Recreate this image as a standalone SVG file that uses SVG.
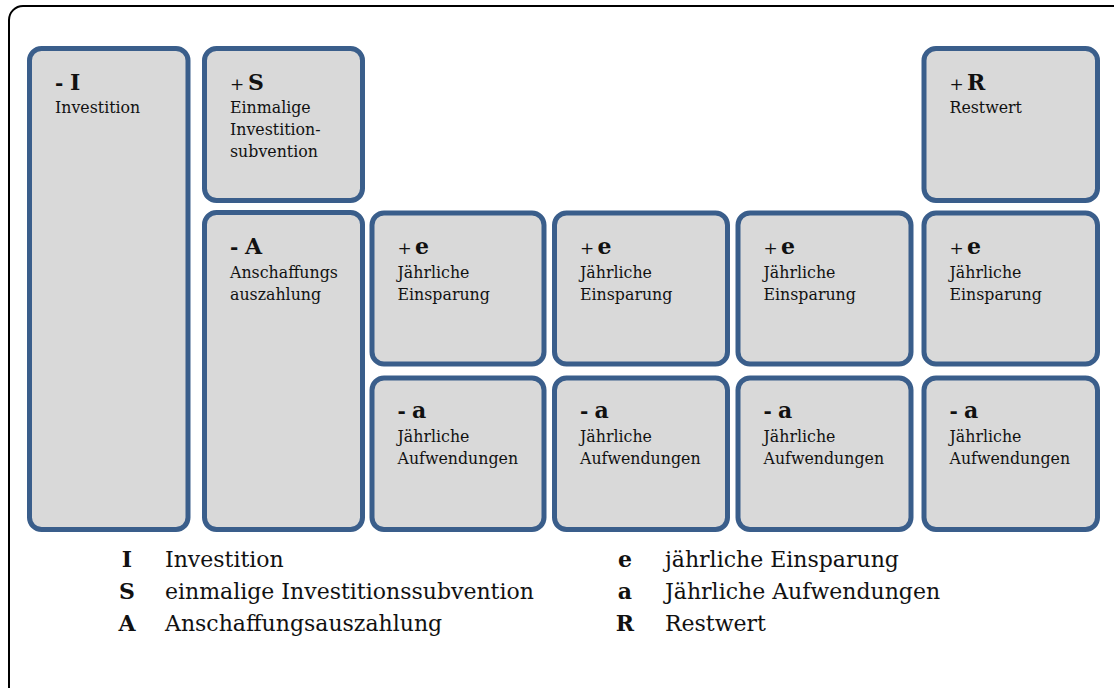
<svg xmlns="http://www.w3.org/2000/svg" width="1114" height="688" viewBox="0 0 1114 688">
<style>
.frame{fill:none;stroke:#000;stroke-width:2}
.box{fill:#d9d9d9;stroke:#3a5e8b;stroke-width:5}
text{font-family:"DejaVu Serif","Liberation Serif",serif;fill:#111}
.sym{font-size:17px}
.dash{font-size:20px;font-weight:bold}
.let{font-size:22px;font-weight:bold}
.desc{font-size:15.8px}
.lg{font-size:22px}
.lgb{font-size:22px;font-weight:bold;text-anchor:middle}
</style>
<rect class="frame" x="9" y="6" width="1125" height="695" rx="14"/>
<g id="connectors"/>
<g id="node-I">
<rect class="box" x="29.5" y="48.5" width="158.5" height="481" rx="12"/>
<text x="55" y="90"><tspan class="dash">-</tspan><tspan class="let" x="70">I</tspan></text>
<text class="desc" x="55" y="113">Investition</text>
</g>
<g id="node-S">
<rect class="box" x="204.5" y="48.5" width="158" height="152" rx="12"/>
<text x="230" y="90"><tspan class="sym">+</tspan><tspan class="let" x="248">S</tspan></text>
<text class="desc" x="230" y="113">Einmalige</text>
<text class="desc" x="230" y="135">Investition-</text>
<text class="desc" x="230" y="157">subvention</text>
</g>
<g id="node-R">
<rect class="box" x="924" y="48.5" width="173.5" height="152" rx="12"/>
<text x="949.5" y="90"><tspan class="sym">+</tspan><tspan class="let" x="967">R</tspan></text>
<text class="desc" x="949.5" y="113">Restwert</text>
</g>
<g id="node-A">
<rect class="box" x="204.5" y="212.5" width="158" height="317" rx="12"/>
<text x="230" y="254"><tspan class="dash">-</tspan><tspan class="let" x="245">A</tspan></text>
<text class="desc" x="230" y="278">Anschaffungs</text>
<text class="desc" x="230" y="300">auszahlung</text>
</g>
<g id="node-e1">
<rect class="box" x="372" y="213" width="172" height="151" rx="12"/>
<text x="397.5" y="254"><tspan class="sym">+</tspan><tspan class="let" x="415">e</tspan></text>
<text class="desc" x="397.5" y="278">Jährliche</text>
<text class="desc" x="397.5" y="300">Einsparung</text>
</g>
<g id="node-e2">
<rect class="box" x="554.5" y="213" width="173" height="151" rx="12"/>
<text x="580" y="254"><tspan class="sym">+</tspan><tspan class="let" x="597.5">e</tspan></text>
<text class="desc" x="580" y="278">Jährliche</text>
<text class="desc" x="580" y="300">Einsparung</text>
</g>
<g id="node-e3">
<rect class="box" x="738" y="213" width="173" height="151" rx="12"/>
<text x="763.5" y="254"><tspan class="sym">+</tspan><tspan class="let" x="781">e</tspan></text>
<text class="desc" x="763.5" y="278">Jährliche</text>
<text class="desc" x="763.5" y="300">Einsparung</text>
</g>
<g id="node-e4">
<rect class="box" x="924" y="213" width="173.5" height="151" rx="12"/>
<text x="949.5" y="254"><tspan class="sym">+</tspan><tspan class="let" x="967">e</tspan></text>
<text class="desc" x="949.5" y="278">Jährliche</text>
<text class="desc" x="949.5" y="300">Einsparung</text>
</g>
<g id="node-a1">
<rect class="box" x="372" y="378" width="172" height="151.5" rx="12"/>
<text x="397.5" y="418"><tspan class="dash">-</tspan><tspan class="let" x="412">a</tspan></text>
<text class="desc" x="397.5" y="442">Jährliche</text>
<text class="desc" x="397.5" y="464">Aufwendungen</text>
</g>
<g id="node-a2">
<rect class="box" x="554.5" y="378" width="173" height="151.5" rx="12"/>
<text x="580" y="418"><tspan class="dash">-</tspan><tspan class="let" x="594.5">a</tspan></text>
<text class="desc" x="580" y="442">Jährliche</text>
<text class="desc" x="580" y="464">Aufwendungen</text>
</g>
<g id="node-a3">
<rect class="box" x="738" y="378" width="173" height="151.5" rx="12"/>
<text x="763.5" y="418"><tspan class="dash">-</tspan><tspan class="let" x="778">a</tspan></text>
<text class="desc" x="763.5" y="442">Jährliche</text>
<text class="desc" x="763.5" y="464">Aufwendungen</text>
</g>
<g id="node-a4">
<rect class="box" x="924" y="378" width="173.5" height="151.5" rx="12"/>
<text x="949.5" y="418"><tspan class="dash">-</tspan><tspan class="let" x="964">a</tspan></text>
<text class="desc" x="949.5" y="442">Jährliche</text>
<text class="desc" x="949.5" y="464">Aufwendungen</text>
</g>
<g id="legend">
<text class="lgb" x="127" y="567">I</text>
<text class="lg" x="165" y="567">Investition</text>
<text class="lgb" x="127" y="599">S</text>
<text class="lg" x="165" y="599">einmalige Investitionssubvention</text>
<text class="lgb" x="127" y="631">A</text>
<text class="lg" x="165" y="631">Anschaffungsauszahlung</text>
<text class="lgb" x="625" y="567">e</text>
<text class="lg" x="665" y="567">jährliche Einsparung</text>
<text class="lgb" x="625" y="599">a</text>
<text class="lg" x="665" y="599">Jährliche Aufwendungen</text>
<text class="lgb" x="625" y="631">R</text>
<text class="lg" x="665" y="631">Restwert</text>
</g>
</svg>
